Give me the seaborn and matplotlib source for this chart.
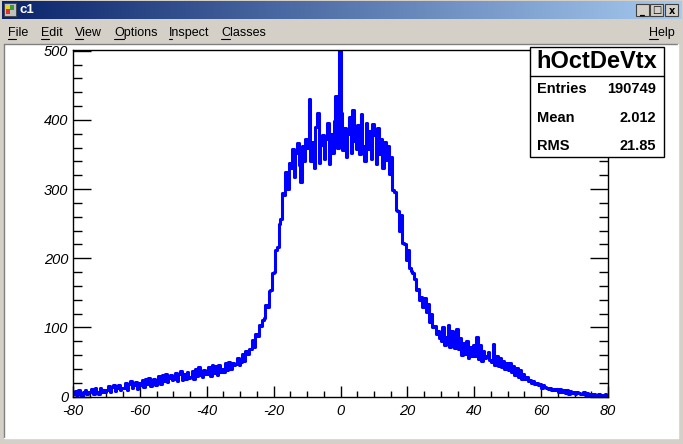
import numpy as np
import pandas as pd
import matplotlib
matplotlib.use("Agg")
import matplotlib.pyplot as plt
from matplotlib.patches import Rectangle
from matplotlib.lines import Line2D
from matplotlib.colors import LinearSegmentedColormap
import seaborn as sns

# ---------------- data (bin width 0.5, from -80 to 80) ----------------
bin_edges = [round(-80.0 + 0.5 * i, 2) for i in range(321)]
counts = [
    3, 8, 2, 9, 5, 1, 7, 10, 3, 6,                    # -80 .. -75
    6, 11, 4, 12, 7, 3, 13, 6, 10, 7,                 # -75 .. -70
    9, 15, 6, 14, 17, 8, 12, 16, 9, 13,               # -70 .. -65
    12, 19, 10, 18, 22, 12, 16, 21, 11, 19,           # -65 .. -60
    16, 24, 14, 25, 18, 27, 15, 22, 26, 17,           # -60 .. -55
    20, 29, 18, 31, 23, 33, 21, 27, 31, 24,           # -55 .. -50
    25, 34, 22, 32, 37, 24, 33, 26, 36, 27,           # -50 .. -45
    28, 37, 26, 40, 29, 42, 31, 28, 39, 33,           # -45 .. -40
    32, 43, 30, 45, 34, 44, 31, 46, 36, 40,           # -40 .. -35
    36, 48, 38, 50, 40, 49, 45, 47, 56, 46,           # -35 .. -30
    50, 61, 52, 66, 62, 69, 68, 82, 72, 90,           # -30 .. -25
    88, 104, 102, 110, 114, 132, 130, 152, 154, 178,  # -25 .. -20
    180, 212, 216, 250, 256, 294, 292, 324, 300, 338, # -20 .. -15
    330, 358, 318, 352, 366, 334, 310, 362, 340, 372, # -15 .. -10
    360, 430, 340, 368, 330, 390, 410, 338, 364, 378, # -10 .. -5
    344, 372, 396, 336, 380, 352, 398, 434, 360, 500, # -5 .. 0
    410, 356, 388, 346, 380, 404, 352, 414, 370, 358, # 0 .. 5
    392, 350, 408, 362, 340, 396, 358, 384, 344, 394, # 5 .. 10
    378, 336, 388, 350, 372, 330, 368, 342, 362, 322, # 10 .. 15
    346, 298, 296, 270, 268, 240, 262, 222, 220, 198, # 15 .. 20
    212, 186, 182, 178, 170, 154, 156, 140, 144, 130, # 20 .. 25
    142, 122, 134, 108, 120, 100, 102, 90, 95, 84,    # 25 .. 30
    80, 100, 74, 86, 104, 72, 94, 80, 70, 98,         # 30 .. 35
    68, 84, 60, 78, 62, 80, 56, 72, 58, 74,           # 35 .. 40
    58, 86, 54, 75, 52, 66, 55, 58, 64, 53,           # 40 .. 45
    50, 76, 46, 58, 44, 55, 42, 52, 40, 49,           # 45 .. 50
    39, 48, 35, 44, 31, 41, 28, 38, 26, 32,           # 50 .. 55
    25, 28, 23, 24, 20, 22, 18, 20, 16, 18,           # 55 .. 60
    13, 16, 14, 13, 11, 12, 10, 11, 9, 11,            # 60 .. 65
    7, 11, 6, 9, 5, 10, 4, 8, 5, 6,                   # 65 .. 70
    4, 6, 5, 4, 3, 6, 2, 5, 2, 4,                     # 70 .. 75
    2, 4, 2, 1, 3, 2, 1, 2, 3, 1,                     # 75 .. 80
]
bin_centers = [(a + b) / 2 for a, b in zip(bin_edges[:-1], bin_edges[1:])]

x_ticks = [-80, -60, -40, -20, 0, 20, 40, 60, 80]
x_tick_labels = ["-80", "-60", "-40", "-20", "0", "20", "40", "60", "80"]
y_ticks = [0, 100, 200, 300, 400, 500]
y_tick_labels = ["0", "100", "200", "300", "400", "500"]

window_title = "c1"
menu_items = ["File", "Edit", "View", "Options", "Inspect", "Classes"]
menu_x = [8, 41, 75, 114, 169, 221]
help_item = "Help"

stats_title = "hOctDeVtx"
stats_labels = ["Entries", "Mean", "RMS"]
stats_values = ["190749", "2.012", "21.85"]

df = pd.DataFrame({"x": bin_centers, "w": counts})

# ---------------- figure ----------------
sns.set_theme(style="white")
plt.rcParams["font.family"] = ["Liberation Sans", "DejaVu Sans"]
plt.rcParams["axes.unicode_minus"] = False

W, H = 683, 444
fig = plt.figure(figsize=(W / 100, H / 100), dpi=100)
fig.patch.set_facecolor("#D4D0C8")

def fx(x):
    return x / W

def fy(y):
    return 1 - y / H

def rect(x0, y0, x1, y1, **kw):
    r = Rectangle((fx(x0), fy(y1)), fx(x1) - fx(x0), fy(y0) - fy(y1),
                  transform=fig.transFigure, **kw)
    fig.patches.append(r)
    return r

def hline(x0, x1, y, **kw):
    fig.lines.append(Line2D([fx(x0), fx(x1)], [fy(y), fy(y)], transform=fig.transFigure, **kw))

def vline(x, y0, y1, **kw):
    fig.lines.append(Line2D([fx(x), fx(x)], [fy(y0), fy(y1)], transform=fig.transFigure, **kw))

# title bar gradient
tax = fig.add_axes([fx(2), fy(19), fx(681) - fx(2), fy(1) - fy(19)])
grad = np.linspace(0, 1, 256).reshape(1, -1)
cmap = LinearSegmentedColormap.from_list("tb", ["#0A246A", "#A6CAF0"])
tax.imshow(grad, aspect="auto", cmap=cmap, extent=[0, 1, 0, 1])
tax.set_axis_off()

# icon
rect(4, 3, 16, 16, facecolor="#C0C0C0", edgecolor="#404040", lw=0.6, zorder=5)
rect(6, 9, 10, 14, facecolor="#E03030", edgecolor="none", zorder=6)
rect(10, 5, 14, 10, facecolor="#30A030", edgecolor="none", zorder=6)
rect(6, 5, 10, 9, facecolor="#F0D020", edgecolor="none", zorder=6)
fig.text(fx(20), fy(10), window_title, color="white", fontsize=9.5, fontweight="bold",
         ha="left", va="center", zorder=6)

# window buttons
for bx0, glyph in [(636, "_"), (650, "□"), (665, "x")]:
    rect(bx0, 4, bx0 + 13, 16, facecolor="#D4D0C8", edgecolor="#404040", lw=0.8, zorder=5)
    fig.text(fx(bx0 + 6.5), fy(10.5), glyph, fontsize=7, fontweight="bold", color="black",
             ha="center", va="center", family=["DejaVu Sans"], zorder=6)

# menu bar
renderer = fig.canvas.get_renderer()
def menu_text(x, s):
    fig.text(fx(x), fy(33), s, fontsize=9, color="black", ha="left", va="center")
    first = fig.text(fx(x), fy(33), s[0], fontsize=9, color="none", ha="left", va="center")
    bb = first.get_window_extent(renderer=renderer)
    first.remove()
    hline(x, x + bb.width, 39.5, color="black", lw=0.8)
for x, s in zip(menu_x, menu_items):
    menu_text(x, s)
menu_text(649, help_item)

# canvas
rect(4.5, 43.5, 677.5, 437.5, facecolor="white", edgecolor="none", zorder=-5)
hline(4, 678, 43.5, color="#808080", lw=1, zorder=-4)
vline(4, 43.5, 438, color="#808080", lw=1, zorder=-4)
hline(4, 678, 438, color="#FFFFFF", lw=1, zorder=-4)
vline(678, 43.5, 438, color="#FFFFFF", lw=1, zorder=-4)

# ---------------- histogram axes ----------------
ax = fig.add_axes([fx(73), fy(396.5), fx(608) - fx(73), fy(50) - fy(396.5)])
ax.set_zorder(1)
ax.set_facecolor("white")
sns.histplot(data=df, x="x", weights="w", bins=bin_edges, element="step", fill=False,
             color="#0000FF", linewidth=2.2, ax=ax)
ax.set_xlim(-80, 80)
ax.set_ylim(0, 501)
ax.set_xlabel("")
ax.set_ylabel("")
for s in ax.spines.values():
    s.set_color("black")
    s.set_linewidth(1.0)

ax.set_xticks(x_ticks)
ax.set_xticklabels(x_tick_labels)
ax.set_yticks(y_ticks)
ax.set_yticklabels(y_tick_labels)
ax.set_xticks(np.arange(-80, 81, 5), minor=True)
ax.set_yticks(np.arange(0, 501, 20), minor=True)

ax.tick_params(axis="x", which="major", direction="in", length=8, width=1, color="black",
               bottom=True, top=False, labelsize=10.5, pad=5.5)
ax.tick_params(axis="x", which="minor", direction="in", length=4, width=1, color="black",
               bottom=True, top=False)
ax.tick_params(axis="y", which="major", direction="in", length=13, width=1, color="black",
               left=True, right=True, labelsize=10.5, pad=3.5)
ax.tick_params(axis="y", which="minor", direction="in", length=6.5, width=1, color="black",
               left=True, right=True)
for lab in ax.get_xticklabels() + ax.get_yticklabels():
    lab.set_fontstyle("italic")
    lab.set_color("black")

# ---------------- stats box ----------------
rect(530, 47, 664, 157, facecolor="white", edgecolor="black", lw=1.0, zorder=10)
hline(530, 664, 76, color="black", lw=1.0, zorder=11)
fig.text(fx(597), fy(62), stats_title, fontsize=17, fontweight="bold", color="black",
         ha="center", va="center", zorder=12)
for i, (lab, val) in enumerate(zip(stats_labels, stats_values)):
    yy = 89 + i * 28.5
    fig.text(fx(537), fy(yy), lab, fontsize=10.5, fontweight="bold", color="black",
             ha="left", va="center", zorder=12)
    fig.text(fx(656), fy(yy), val, fontsize=10.5, fontweight="bold", color="black",
             ha="right", va="center", zorder=12)

fig.savefig("out.png", dpi=100, facecolor=fig.get_facecolor())
